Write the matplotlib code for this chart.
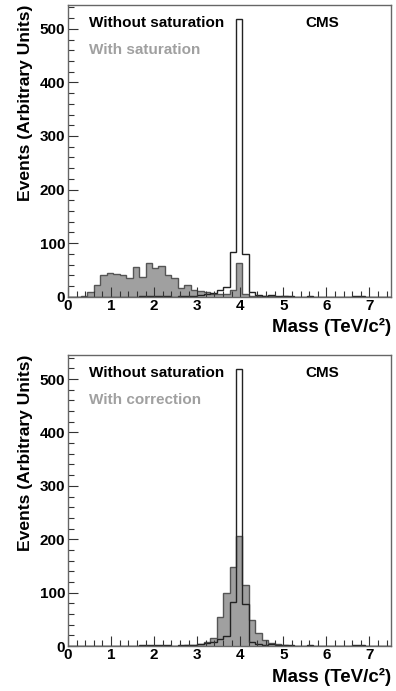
import numpy as np
import matplotlib
matplotlib.use('Agg')
import matplotlib.pyplot as plt
from matplotlib.ticker import MultipleLocator

plt.rcParams['font.family'] = ['Liberation Sans', 'DejaVu Sans']
plt.rcParams['font.weight'] = 'bold'

# 50 bins of 0.15 TeV/c^2 from 0 to 7.5
bin_lo = 0.0
bin_hi = 7.5
n_bins = 50

# reference sample, drawn as outline in both panels
without_sat = [0, 0, 0, 0, 0, 0, 0, 0, 0, 0,
               0, 1, 1, 1, 1, 2, 0, 1, 1, 1,
               3, 5, 7, 13, 19, 83, 519, 79, 8, 4,
               2, 3, 1, 2, 1, 0, 0, 1, 0, 0,
               0, 0, 0, 0, 1, 1, 0, 0, 0, 0]

# saturated reconstruction (top panel, filled)
with_sat = [0, 0, 2, 9, 22, 41, 45, 42, 40, 35,
            55, 37, 63, 54, 57, 41, 35, 17, 22, 12,
            10, 8, 5, 6, 6, 12, 63, 6, 2, 1,
            1, 1, 0, 1, 0, 0, 0, 0, 0, 0,
            0, 0, 0, 0, 0, 0, 0, 0, 0, 0]

# corrected reconstruction (bottom panel, filled)
with_corr = [0, 0, 0, 0, 0, 0, 0, 0, 0, 0,
             0, 0, 0, 0, 0, 0, 0, 0, 1, 2,
             4, 8, 15, 54, 100, 148, 206, 114, 49, 24,
             12, 6, 3, 1, 0, 0, 0, 0, 0, 0,
             0, 0, 0, 0, 0, 0, 0, 0, 0, 0]

x_ticks = [0, 1, 2, 3, 4, 5, 6, 7]
y_ticks = [0, 100, 200, 300, 400, 500]

FILL = '#a0a0a0'
FRAME = '#666666'


def draw_panel(ax, filled, filled_label):
  edges = np.linspace(bin_lo, bin_hi, n_bins + 1)

  ax.stairs(filled, edges, fill=True, facecolor=FILL, edgecolor='#555555', linewidth=1)
  ax.stairs(without_sat, edges, color='#222222', linewidth=1)

  ax.set_xlim(0, 7.5)
  ax.set_ylim(0, 545)
  ax.set_xticks(x_ticks)
  ax.set_yticks(y_ticks)
  ax.xaxis.set_minor_locator(MultipleLocator(0.2))
  ax.yaxis.set_minor_locator(MultipleLocator(20))
  ax.tick_params(which='both', direction='in', colors='#333333', labelcolor='black',
                 labelsize=11, top=False, right=False)
  ax.tick_params(axis='x', pad=1.5)
  ax.tick_params(axis='y', pad=2)
  ax.tick_params(which='major', length=7, width=0.8)
  ax.tick_params(which='minor', length=4, width=0.8)
  for lab in ax.get_xticklabels() + ax.get_yticklabels():
    lab.set_fontweight('bold')
  for sp in ax.spines.values():
    sp.set_color(FRAME)
    sp.set_linewidth(1)

  ax.text(0.49, 511, 'Without saturation', fontsize=11, fontweight='bold',
          color='black', va='center', ha='left')
  ax.text(0.49, 460, filled_label, fontsize=11, fontweight='bold',
          color='#a0a0a0', va='center', ha='left')
  ax.text(5.51, 511, 'CMS', fontsize=11, fontweight='bold',
          color='black', va='center', ha='left')

  ax.set_ylabel('Events (Arbitrary Units)', fontsize=12.6, fontweight='bold', loc='top', labelpad=5)
  ax.set_xlabel('Mass (TeV/c²)', fontsize=13.5, fontweight='bold', loc='right', labelpad=4)


fig = plt.figure(figsize=(3.96, 6.91), dpi=100)
ax_top = fig.add_axes([0.1717, 0.5706, 0.8157, 0.4226])
ax_bot = fig.add_axes([0.1717, 0.0651, 0.8157, 0.4211])

draw_panel(ax_top, with_sat, 'With saturation')
draw_panel(ax_bot, with_corr, 'With correction')

fig.savefig('out.png', dpi=100)
